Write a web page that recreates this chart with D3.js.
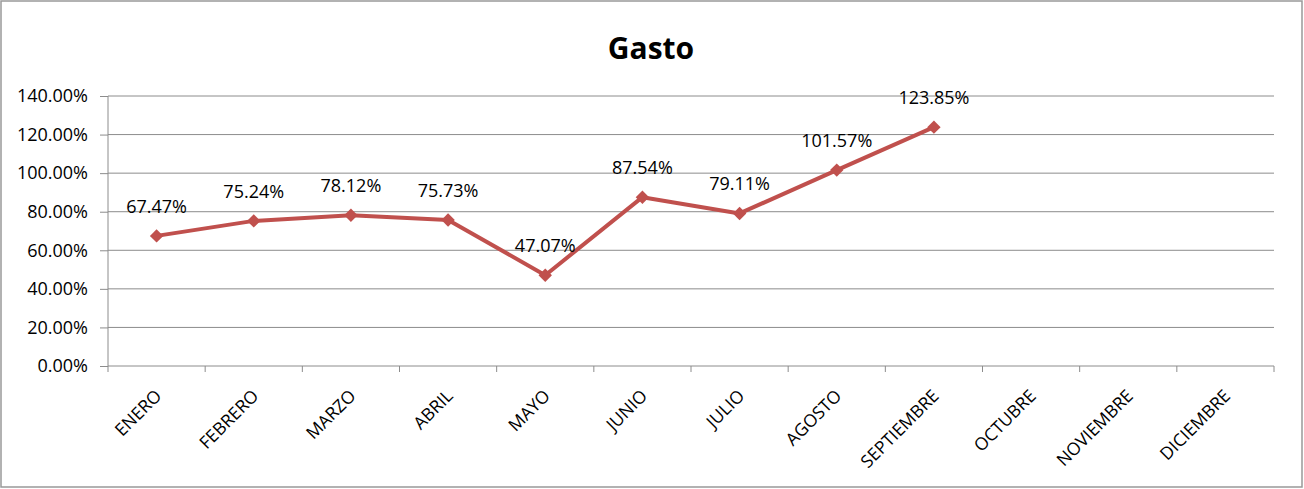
<!DOCTYPE html>
<html><head><meta charset="utf-8">
<script src="https://cdn.jsdelivr.net/npm/d3@7"></script>
<style>body{margin:0;background:#fff}svg{display:block}</style>
</head><body>
<svg id="c" width="1304" height="489"></svg>
<script>
const months = ["ENERO","FEBRERO","MARZO","ABRIL","MAYO","JUNIO","JULIO","AGOSTO","SEPTIEMBRE","OCTUBRE","NOVIEMBRE","DICIEMBRE"];
const gasto = [67.47,75.24,78.12,75.73,47.07,87.54,79.11,101.57,123.85,null,null,null];
const yTicks = [0,20,40,60,80,100,120,140];
const title = "Gasto";

const svg = d3.select("#c");
const font = "'Open Sans', 'Noto Sans', sans-serif";
svg.append("rect").attr("x",1).attr("y",1).attr("width",1301).attr("height",486)
  .attr("fill","#fff").attr("stroke","#999").attr("stroke-width",1.5);

const L=108, R=1274, T=96, B=366;
const x = d3.scaleBand().domain(months).range([L,R]);
const y = d3.scaleLinear().domain([0,140]).range([B,T]);

svg.append("text").attr("x",651).attr("y",59).attr("text-anchor","middle")
  .attr("font-family",font).attr("font-weight","bold").attr("font-size",30).text(title);

// gridlines
svg.append("g").selectAll("line").data(yTicks.filter(d=>d>0)).join("line")
  .attr("x1",L).attr("x2",R).attr("y1",d=>y(d)).attr("y2",d=>y(d))
  .attr("stroke","#8c8c8c").attr("stroke-width",1);

// y axis
const ya = svg.append("g").attr("transform",`translate(${L},0)`)
  .call(d3.axisLeft(y).tickValues(yTicks).tickSize(8).tickPadding(12).tickFormat(d=>d.toFixed(2)+"%"));
ya.select(".domain").attr("stroke","#8c8c8c").attr("d",`M0,${T}V${B}`);
ya.selectAll(".tick line").attr("stroke","#8c8c8c");
ya.selectAll("text").attr("font-family",font).attr("font-size",18).attr("fill","#000");

// x axis
const xa = svg.append("g").attr("transform",`translate(0,${B})`)
  .call(d3.axisBottom(x).tickSize(0).tickPadding(0));
xa.select(".domain").attr("stroke","#8c8c8c").attr("d",`M${L},0H${R}`);
xa.selectAll(".tick line").remove();
xa.selectAll(".bt").data(d3.range(months.length+1)).join("line")
  .attr("x1",i=>L+i*x.step()).attr("x2",i=>L+i*x.step()).attr("y1",0).attr("y2",6).attr("stroke","#8c8c8c");
xa.selectAll(".tick text").attr("font-family",font).attr("font-size",17.5).attr("fill","#000")
  .attr("text-anchor","end").attr("dy",null).attr("y",null)
  .attr("transform","translate(6,31) rotate(-45)");

const pts = months.map((m,i)=>({m,v:gasto[i]})).filter(d=>d.v!=null);
const cx = d=>x(d.m)+x.bandwidth()/2;
svg.append("path").datum(pts).attr("fill","none").attr("stroke","#C0504D").attr("stroke-width",4)
  .attr("stroke-linejoin","round")
  .attr("d",d3.line().x(cx).y(d=>y(d.v)));
svg.append("g").selectAll("path").data(pts).join("path")
  .attr("d",d3.symbol(d3.symbolDiamond2,115)).attr("fill","#C0504D")
  .attr("transform",d=>`translate(${cx(d)},${y(d.v)})`);
svg.append("g").selectAll("text").data(pts).join("text")
  .attr("x",cx).attr("y",d=>y(d.v)-23).attr("text-anchor","middle")
  .attr("font-family",font).attr("font-size",18).attr("fill","#000")
  .text(d=>d.v.toFixed(2)+"%");
</script>
</body></html>
